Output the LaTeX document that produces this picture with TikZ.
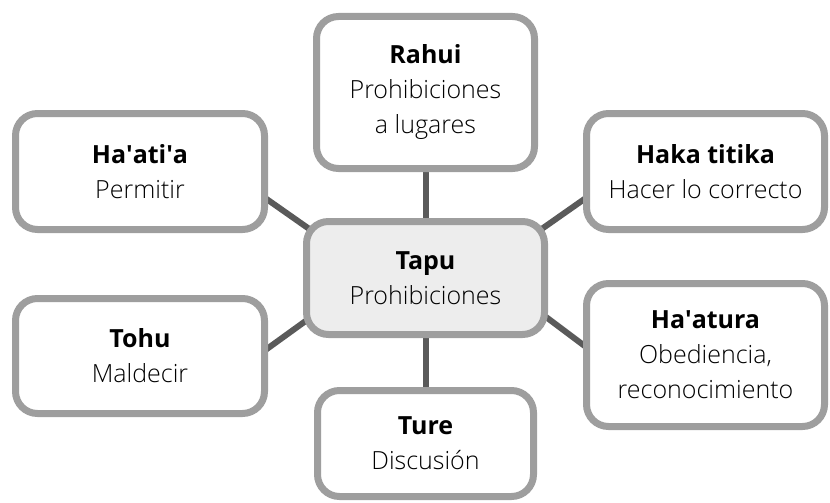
\documentclass[tikz,border=0pt]{standalone}
\usepackage{fontspec}
\setmainfont{Open Sans}[UprightFont={* Light},BoldFont={* Bold}]
\usetikzlibrary{positioning,calc,backgrounds}
\definecolor{rim}{HTML}{9E9E9E}
\definecolor{spoke}{HTML}{5A5A5A}
\definecolor{hubfill}{HTML}{EDEDED}

\begin{document}
\begin{tikzpicture}[x=1pt,y=-1pt,
                    box/.style={draw=rim,line width=7pt,rounded corners=22pt,fill=white,
                                align=center,inner sep=0pt,font=\fontsize{25}{35}\selectfont},
                    hub/.style={box,fill=hubfill},
                    link/.style={draw=spoke,line width=6pt}]

  \useasboundingbox (0,0) rectangle (830,503);

  \node[hub,minimum width=238pt,minimum height=113pt] (tapu) at (425.5,278)
        {\textbf{Tapu}\\Prohibiciones};
  \node[box,minimum width=218pt,minimum height=152pt] (rahui) [above=46pt of tapu]
        {\textbf{Rahui}\\Prohibiciones\\a lugares};
  \node[box,minimum width=216pt,minimum height=106pt] (ture) [below=49pt of tapu]
        {\textbf{Ture}\\Discusión};
  \node[box,minimum width=249pt,minimum height=116pt] (haati) [above left=-15pt and 35pt of tapu]
        {\textbf{Ha\textquotesingle ati\textquotesingle a}\\Permitir};
  \node[box,minimum width=238pt,minimum height=116pt] (haka) [above right=-15pt and 35pt of tapu]
        {\textbf{Haka titika}\\Hacer lo correcto};
  \node[box,minimum width=249pt,minimum height=115pt] (tohu) [below left=-43pt and 35pt of tapu]
        {\textbf{Tohu}\\Maldecir};
  \node[box,minimum width=238pt,minimum height=143pt] (haatura) [below right=-58pt and 35pt of tapu]
        {\textbf{Ha\textquotesingle atura}\\Obediencia,\\reconocimiento};

  % spokes behind the boxes
  \begin{pgfonlayer}{background}
    \path[link] (rahui) edge (tapu)
                (tapu) edge (ture)
                ($(haati.east)+(-15,18)$) edge ($(tapu.north west)+(22,22)$)
                ($(haka.west)+(15,18)$) edge ($(tapu.north east)+(-22,22)$)
                ($(tohu.east)+(-15,3)$) edge ($(tapu.south west)+(22,-31)$)
                ($(haatura.west)+(15,1)$) edge ($(tapu.south east)+(-22,-36)$);
  \end{pgfonlayer}

\end{tikzpicture}
\end{document}
